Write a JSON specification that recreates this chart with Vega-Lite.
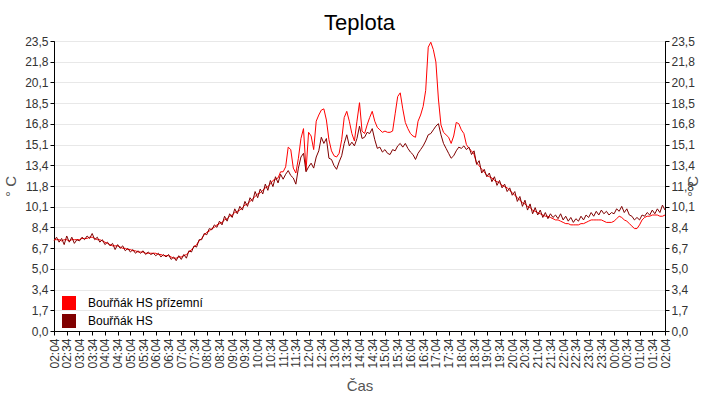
{
  "$schema": "https://vega.github.io/schema/vega-lite/v6.json",
  "autosize": {"type": "none"},
  "padding": {"left": 54, "top": 41, "right": 55, "bottom": 69},
  "width": 611,
  "height": 290,
  "title": {"text": "Teplota", "fontSize": 22, "fontWeight": "normal", "color": "#000", "anchor": "middle", "offset": 0},
  "data": {"values": [
    {"m":0,"a":7.4,"b":7.3},{"m":6,"a":7.4,"b":7.6},{"m":12,"a":7.4,"b":7.2},{"m":18,"a":7.3,"b":7.5},{"m":24,"a":7.4,"b":7.0},
    {"m":30,"a":7.4,"b":7.7},{"m":36,"a":7.3,"b":7.2},{"m":42,"a":7.4,"b":7.6},{"m":48,"a":7.4,"b":7.1},{"m":54,"a":7.4,"b":7.4},
    {"m":60,"a":7.4,"b":7.3},{"m":66,"a":7.5,"b":7.6},{"m":72,"a":7.5,"b":7.4},{"m":78,"a":7.5,"b":7.7},{"m":84,"a":7.6,"b":7.5},
    {"m":90,"a":7.6,"b":7.9},{"m":96,"a":7.5,"b":7.4},{"m":102,"a":7.4,"b":7.6},{"m":108,"a":7.4,"b":7.2},{"m":114,"a":7.3,"b":7.4},
    {"m":120,"a":7.2,"b":7.0},{"m":126,"a":7.1,"b":7.2},{"m":132,"a":7.0,"b":6.9},{"m":138,"a":6.9,"b":7.1},{"m":144,"a":6.9,"b":6.6},
    {"m":150,"a":6.9,"b":7.0},{"m":156,"a":6.8,"b":6.7},{"m":162,"a":6.7,"b":6.9},{"m":168,"a":6.7,"b":6.5},{"m":174,"a":6.6,"b":6.7},
    {"m":180,"a":6.6,"b":6.4},{"m":186,"a":6.5,"b":6.6},{"m":192,"a":6.5,"b":6.3},{"m":198,"a":6.4,"b":6.5},{"m":204,"a":6.4,"b":6.3},
    {"m":210,"a":6.4,"b":6.5},{"m":216,"a":6.3,"b":6.2},{"m":222,"a":6.3,"b":6.4},{"m":228,"a":6.3,"b":6.2},{"m":234,"a":6.3,"b":6.3},
    {"m":240,"a":6.3,"b":6.1},{"m":246,"a":6.2,"b":6.3},{"m":252,"a":6.2,"b":6.0},{"m":258,"a":6.1,"b":6.2},{"m":264,"a":6.1,"b":6.0},
    {"m":270,"a":6.1,"b":6.2},{"m":276,"a":6.0,"b":5.8},{"m":282,"a":5.9,"b":6.0},{"m":288,"a":5.9,"b":5.7},{"m":294,"a":6.0,"b":6.1},
    {"m":300,"a":6.0,"b":5.8},{"m":306,"a":6.1,"b":6.2},{"m":312,"a":6.2,"b":5.9},{"m":318,"a":6.4,"b":6.5},{"m":324,"a":6.6,"b":6.4},
    {"m":330,"a":6.8,"b":6.9},{"m":336,"a":7.0,"b":6.8},{"m":342,"a":7.3,"b":7.4},{"m":348,"a":7.5,"b":7.4},{"m":354,"a":7.8,"b":7.9},
    {"m":360,"a":8.0,"b":7.8},{"m":366,"a":8.1,"b":8.3},{"m":372,"a":8.3,"b":8.2},{"m":378,"a":8.4,"b":8.6},{"m":384,"a":8.6,"b":8.4},
    {"m":390,"a":8.7,"b":8.9},{"m":396,"a":8.8,"b":8.6},{"m":402,"a":9.0,"b":9.3},{"m":408,"a":9.1,"b":8.9},{"m":414,"a":9.3,"b":9.5},
    {"m":420,"a":9.4,"b":9.2},{"m":426,"a":9.6,"b":9.9},{"m":432,"a":9.7,"b":9.5},{"m":438,"a":9.8,"b":10.1},{"m":444,"a":10.0,"b":9.8},
    {"m":450,"a":10.2,"b":10.5},{"m":456,"a":10.3,"b":10.1},{"m":462,"a":10.5,"b":10.8},{"m":468,"a":10.7,"b":10.5},{"m":474,"a":10.9,"b":11.3},
    {"m":480,"a":11.1,"b":10.8},{"m":486,"a":11.2,"b":11.5},{"m":492,"a":11.4,"b":11.1},{"m":498,"a":11.6,"b":11.9},{"m":504,"a":11.7,"b":11.4},
    {"m":510,"a":11.9,"b":12.2},{"m":516,"a":12.2,"b":11.7},{"m":522,"a":12.3,"b":12.5},{"m":528,"a":12.4,"b":12.0},{"m":534,"a":12.9,"b":12.7},
    {"m":540,"a":12.9,"b":12.3},{"m":546,"a":13.3,"b":12.7},{"m":552,"a":14.9,"b":13.0},{"m":558,"a":14.7,"b":12.6},{"m":564,"a":13.2,"b":12.4},
    {"m":570,"a":12.8,"b":11.9},{"m":576,"a":14.0,"b":13.2},{"m":582,"a":15.6,"b":14.1},{"m":588,"a":16.4,"b":14.4},{"m":594,"a":13.0,"b":12.9},
    {"m":600,"a":16.1,"b":13.3},{"m":606,"a":15.8,"b":13.6},{"m":612,"a":14.7,"b":13.2},{"m":618,"a":17.0,"b":14.1},{"m":624,"a":17.5,"b":14.6},
    {"m":630,"a":17.9,"b":15.7},{"m":636,"a":18.0,"b":15.2},{"m":642,"a":17.1,"b":15.6},{"m":648,"a":15.5,"b":14.0},{"m":654,"a":14.6,"b":13.9},
    {"m":660,"a":14.2,"b":13.4},{"m":666,"a":14.1,"b":13.1},{"m":672,"a":14.4,"b":13.7},{"m":678,"a":15.5,"b":14.2},{"m":684,"a":17.3,"b":15.2},
    {"m":690,"a":17.8,"b":15.9},{"m":696,"a":17.0,"b":15.0},{"m":702,"a":16.0,"b":15.3},{"m":708,"a":15.4,"b":15.0},{"m":714,"a":17.0,"b":15.6},
    {"m":720,"a":18.5,"b":16.6},{"m":726,"a":16.2,"b":15.6},{"m":732,"a":16.0,"b":15.7},{"m":738,"a":16.7,"b":16.1},{"m":744,"a":17.3,"b":16.0},
    {"m":750,"a":17.8,"b":16.4},{"m":756,"a":17.0,"b":15.5},{"m":762,"a":16.5,"b":14.8},{"m":768,"a":16.3,"b":14.9},{"m":774,"a":16.1,"b":14.5},
    {"m":780,"a":16.2,"b":14.7},{"m":786,"a":16.1,"b":14.4},{"m":792,"a":16.1,"b":14.3},{"m":798,"a":16.2,"b":14.7},{"m":804,"a":17.6,"b":14.6},
    {"m":810,"a":19.0,"b":15.0},{"m":816,"a":19.3,"b":15.2},{"m":822,"a":18.0,"b":14.9},{"m":828,"a":16.9,"b":15.2},{"m":834,"a":16.4,"b":14.8},
    {"m":840,"a":16.0,"b":14.5},{"m":846,"a":15.8,"b":14.3},{"m":852,"a":15.7,"b":13.9},{"m":858,"a":17.0,"b":14.4},{"m":864,"a":17.5,"b":14.7},
    {"m":870,"a":18.2,"b":15.0},{"m":876,"a":19.5,"b":15.4},{"m":882,"a":23.0,"b":15.9},{"m":888,"a":23.4,"b":16.0},{"m":894,"a":22.8,"b":16.3},
    {"m":900,"a":21.8,"b":16.6},{"m":906,"a":18.8,"b":16.8},{"m":912,"a":16.7,"b":15.9},{"m":918,"a":16.1,"b":15.2},{"m":924,"a":15.9,"b":14.8},
    {"m":930,"a":15.7,"b":14.4},{"m":936,"a":15.2,"b":14.0},{"m":942,"a":15.8,"b":14.2},{"m":948,"a":16.9,"b":14.6},{"m":954,"a":16.8,"b":14.9},
    {"m":960,"a":16.3,"b":14.8},{"m":966,"a":16.0,"b":15.0},{"m":972,"a":15.1,"b":14.7},{"m":978,"a":14.8,"b":14.9},{"m":984,"a":14.6,"b":14.3},
    {"m":990,"a":14.3,"b":14.6},{"m":996,"a":13.6,"b":13.5},{"m":1002,"a":13.4,"b":13.8},{"m":1008,"a":13.1,"b":12.8},{"m":1014,"a":12.9,"b":13.1},
    {"m":1020,"a":12.6,"b":12.5},{"m":1026,"a":12.5,"b":12.8},{"m":1032,"a":12.4,"b":12.1},{"m":1038,"a":12.2,"b":12.5},{"m":1044,"a":12.1,"b":11.8},
    {"m":1050,"a":12.0,"b":12.2},{"m":1056,"a":11.8,"b":11.6},{"m":1062,"a":11.7,"b":11.9},{"m":1068,"a":11.6,"b":11.3},{"m":1074,"a":11.4,"b":11.6},
    {"m":1080,"a":11.2,"b":11.0},{"m":1086,"a":11.0,"b":11.3},{"m":1092,"a":10.8,"b":10.5},{"m":1098,"a":10.6,"b":10.9},{"m":1104,"a":10.4,"b":10.1},
    {"m":1110,"a":10.3,"b":10.6},{"m":1116,"a":10.1,"b":9.8},{"m":1122,"a":10.0,"b":10.3},{"m":1128,"a":9.8,"b":9.5},{"m":1134,"a":9.7,"b":10.0},
    {"m":1140,"a":9.6,"b":9.4},{"m":1146,"a":9.5,"b":9.8},{"m":1152,"a":9.4,"b":9.2},{"m":1158,"a":9.3,"b":9.6},{"m":1164,"a":9.3,"b":9.1},
    {"m":1170,"a":9.2,"b":9.5},{"m":1176,"a":9.1,"b":9.2},{"m":1182,"a":9.0,"b":9.4},{"m":1188,"a":9.0,"b":9.1},{"m":1194,"a":8.9,"b":9.5},
    {"m":1200,"a":8.8,"b":9.0},{"m":1206,"a":8.7,"b":9.3},{"m":1212,"a":8.7,"b":8.9},{"m":1218,"a":8.6,"b":9.2},{"m":1224,"a":8.6,"b":8.8},
    {"m":1230,"a":8.6,"b":9.1},{"m":1236,"a":8.6,"b":8.9},{"m":1242,"a":8.7,"b":9.3},{"m":1248,"a":8.7,"b":9.0},{"m":1254,"a":8.8,"b":9.4},
    {"m":1260,"a":8.9,"b":9.2},{"m":1266,"a":9.0,"b":9.6},{"m":1272,"a":9.0,"b":9.3},{"m":1278,"a":9.0,"b":9.7},{"m":1284,"a":9.0,"b":9.4},
    {"m":1290,"a":9.0,"b":9.8},{"m":1296,"a":8.9,"b":9.5},{"m":1302,"a":8.8,"b":9.7},{"m":1308,"a":8.8,"b":9.4},{"m":1314,"a":8.8,"b":9.6},
    {"m":1320,"a":8.9,"b":9.5},{"m":1326,"a":9.1,"b":9.9},{"m":1332,"a":9.3,"b":9.7},{"m":1338,"a":9.2,"b":10.1},{"m":1344,"a":9.0,"b":9.6},
    {"m":1350,"a":8.9,"b":9.9},{"m":1356,"a":8.7,"b":9.4},{"m":1362,"a":8.5,"b":9.3},{"m":1368,"a":8.3,"b":9.0},{"m":1374,"a":8.3,"b":9.2},
    {"m":1380,"a":8.6,"b":9.0},{"m":1386,"a":9.0,"b":9.4},{"m":1392,"a":9.2,"b":9.3},{"m":1398,"a":9.3,"b":9.6},{"m":1404,"a":9.3,"b":9.4},
    {"m":1410,"a":9.4,"b":9.8},{"m":1416,"a":9.4,"b":9.5},{"m":1422,"a":9.4,"b":9.9},{"m":1428,"a":9.3,"b":9.6},{"m":1434,"a":9.3,"b":10.2},
    {"m":1440,"a":9.4,"b":9.8}
  ]},
  "encoding": {
    "x": {
      "field": "m",
      "type": "quantitative",
      "title": "Čas",
      "scale": {"domain": [0, 1440], "nice": false, "zero": false},
      "axis": {
        "values": [0,30,60,90,120,150,180,210,240,270,300,330,360,390,420,450,480,510,540,570,600,630,660,690,720,750,780,810,840,870,900,930,960,990,1020,1050,1080,1110,1140,1170,1200,1230,1260,1290,1320,1350,1380,1410,1440],
        "labelExpr": "timeFormat(datetime(2024, 0, 1, 2, 4 + datum.value), '%H:%M')",
        "labelAngle": 270,
        "labelAlign": "right",
        "labelBaseline": "middle",
        "labelOverlap": false,
        "labelFlush": false,
        "labelPadding": 3,
        "grid": false,
        "titlePadding": 10
      }
    }
  },
  "layer": [
    {
      "mark": {"type": "line", "strokeWidth": 1, "interpolate": "linear"},
      "encoding": {
        "y": {
          "field": "a",
          "type": "quantitative",
          "title": "° C",
          "scale": {"domain": [0, 23.5], "nice": false, "zero": true},
          "axis": {
            "orient": "left",
            "values": [0, 1.678571, 3.357143, 5.035714, 6.714286, 8.392857, 10.071429, 11.75, 13.428571, 15.107143, 16.785714, 18.464286, 20.142857, 21.821429, 23.5],
            "labelExpr": "replace(format(datum.value, '.1f'), '.', ',')",
            "grid": true,
            "titlePadding": 6
          }
        },
        "color": {
          "datum": "Bouřňák HS přízemní",
          "type": "nominal",
          "scale": {"domain": ["Bouřňák HS přízemní", "Bouřňák HS"], "range": ["#ff0000", "#800000"]},
          "legend": {
            "title": null,
            "orient": "none",
            "legendX": 8,
            "legendY": 255,
            "symbolType": "square",
            "symbolSize": 196,
            "labelFontSize": 12,
            "labelColor": "#000",
            "labelOffset": 12,
            "rowPadding": 4,
            "padding": 0,
            "encode": {
              "symbols": {
                "update": {
                  "fill": {"scale": "color", "field": "value"},
                  "stroke": {"value": "transparent"},
                  "strokeWidth": {"value": 0},
                  "opacity": {"value": 1},
                  "fillOpacity": {"value": 1}
                }
              }
            }
          }
        }
      }
    },
    {
      "mark": {"type": "line", "strokeWidth": 1, "interpolate": "linear"},
      "encoding": {
        "y": {
          "field": "b",
          "type": "quantitative",
          "title": "° C",
          "axis": {
            "orient": "right",
            "values": [0, 1.678571, 3.357143, 5.035714, 6.714286, 8.392857, 10.071429, 11.75, 13.428571, 15.107143, 16.785714, 18.464286, 20.142857, 21.821429, 23.5],
            "labelExpr": "replace(format(datum.value, '.1f'), '.', ',')",
            "grid": false,
            "titleAngle": 270,
            "titlePadding": 6
          }
        },
        "color": {"datum": "Bouřňák HS", "type": "nominal"}
      }
    }
  ],
  "resolve": {"axis": {"y": "independent"}},
  "config": {
    "font": "Liberation Sans",
    "view": {"stroke": "#000", "strokeWidth": 1},
    "legend": {"symbolStrokeWidth": 0},
    "axis": {
      "domainColor": "#000",
      "tickColor": "#000",
      "tickSize": 4,
      "labelFontSize": 12,
      "labelColor": "#333",
      "titleFontSize": 15,
      "titleFontWeight": "normal",
      "titleColor": "#555",
      "gridColor": "#e8e8e8"
    }
  }
}
